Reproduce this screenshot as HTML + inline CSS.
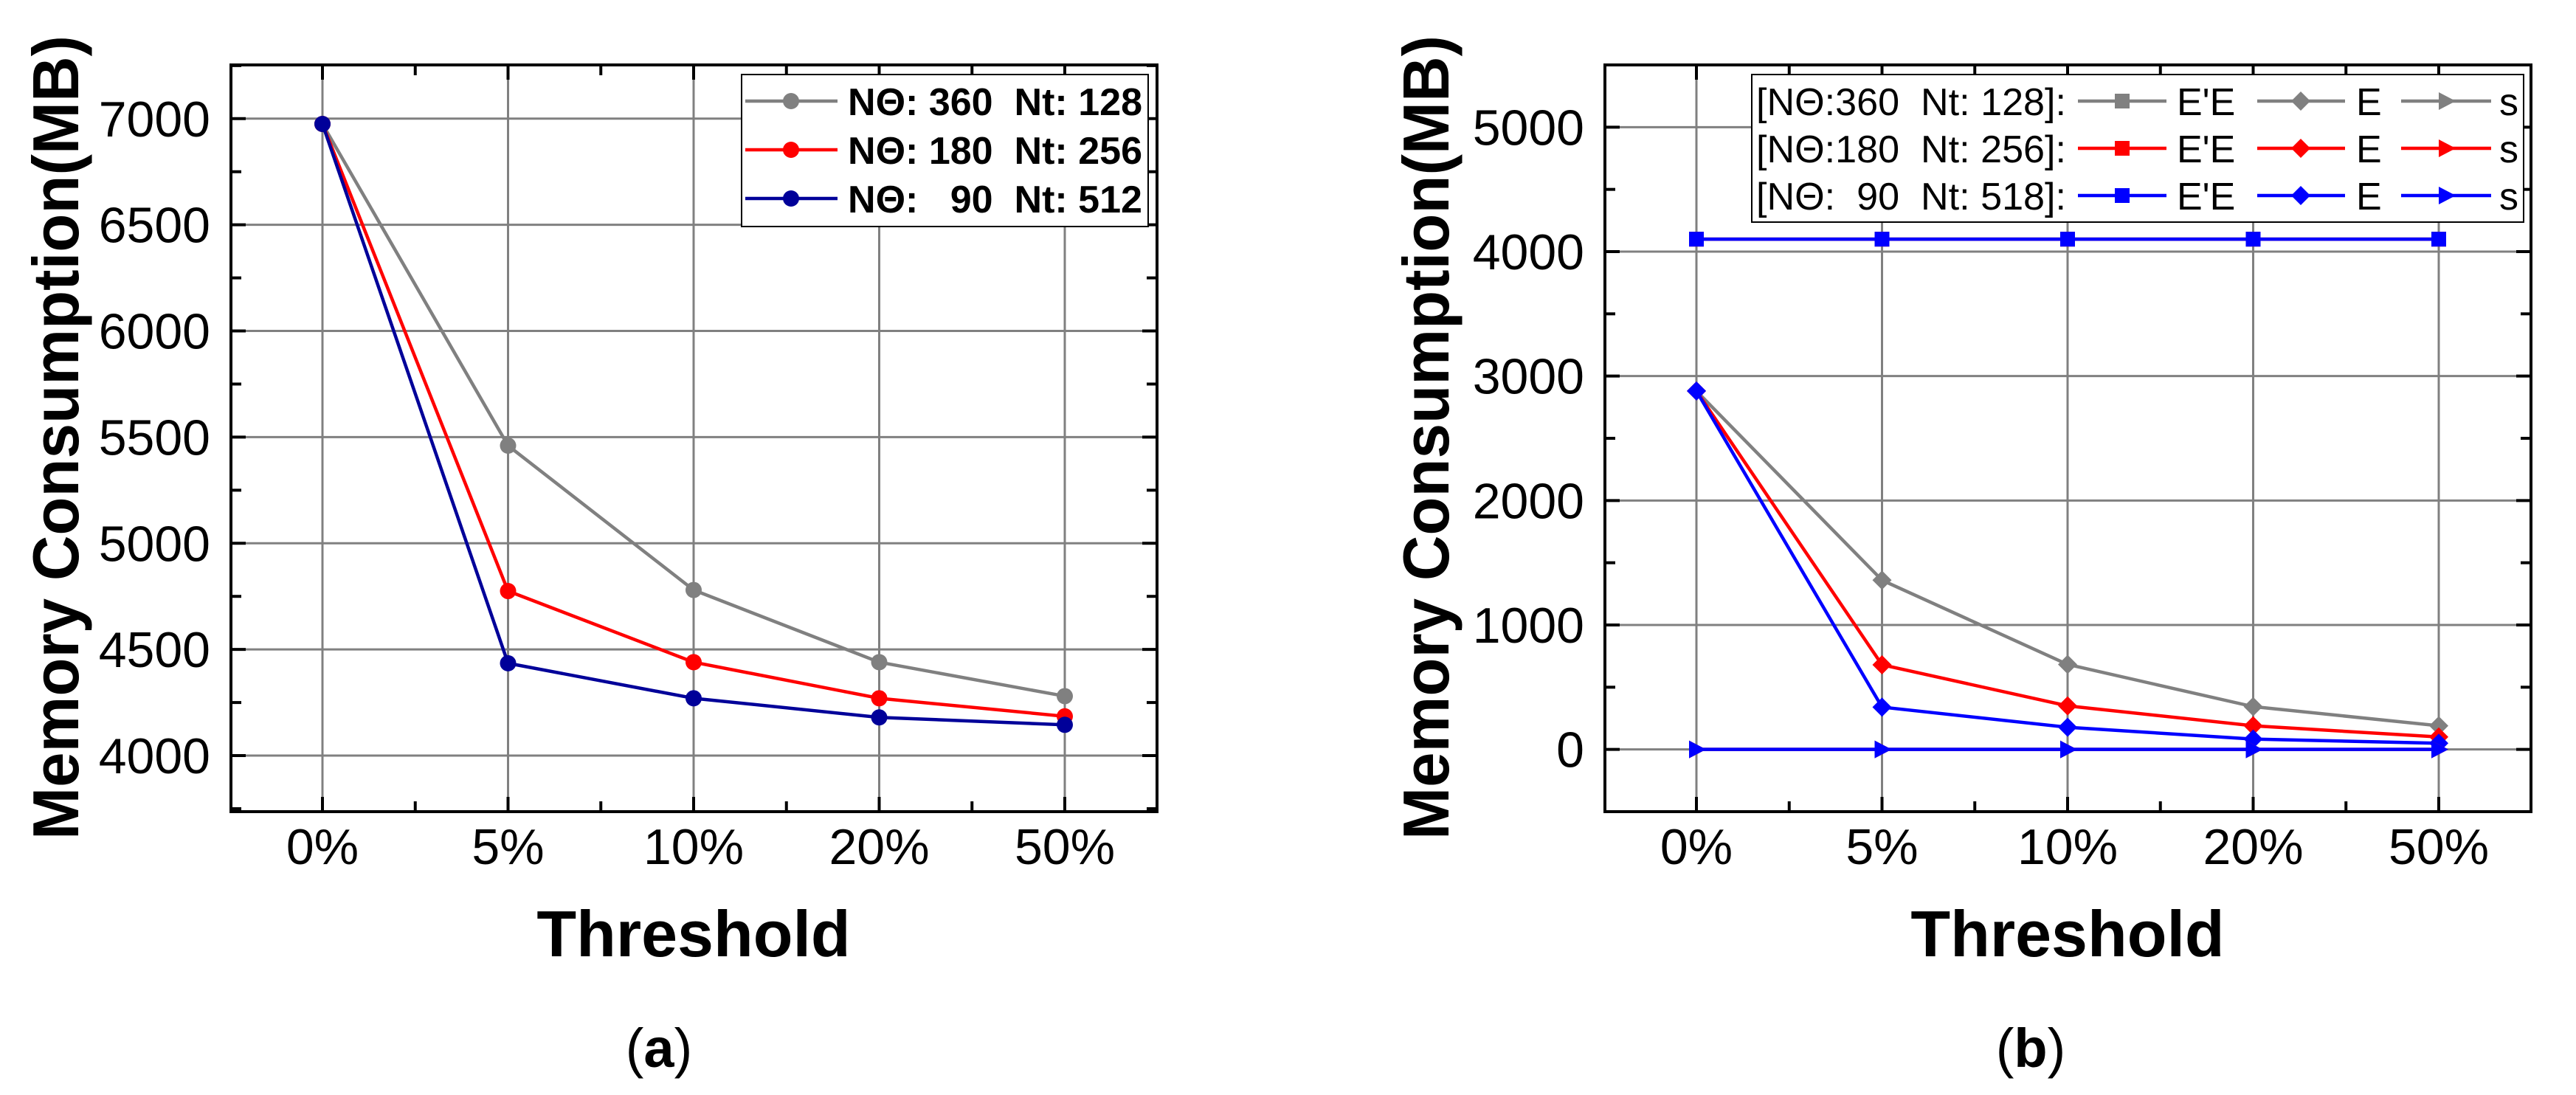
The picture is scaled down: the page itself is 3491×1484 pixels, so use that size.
<!DOCTYPE html>
<html><head><meta charset="utf-8"><style>
html,body{margin:0;padding:0;background:#fff;width:3491px;height:1484px;overflow:hidden}
svg{display:block}
text{font-family:"Liberation Sans",Arial,sans-serif;white-space:pre}
</style></head><body>
<svg id="fig" width="3491" height="1484" viewBox="0 0 3491 1484" xmlns="http://www.w3.org/2000/svg"></svg>
<script>
const categories = ["0%","5%","10%","20%","50%"];
// chart (a)
const aTicks = [4000,4500,5000,5500,6000,6500,7000];
const aGray = [6975,5460,4780,4440,4280];
const aRed = [6975,4775,4440,4270,4185];
const aBlue = [6975,4435,4270,4180,4145];
const aLegend = ["NΘ: 360  Nt: 128","NΘ: 180  Nt: 256","NΘ:   90  Nt: 512"];
// chart (b)
const bTicks = [0,1000,2000,3000,4000,5000];
const bEEGray = [4100,4100,4100,4100,4100];
const bEERed = [4100,4100,4100,4100,4100];
const bEEBlue = [4100,4100,4100,4100,4100];
const bEGray = [2880,1360,683,344,190];
const bERed = [2880,680,350,190,100];
const bEBlue = [2880,340,178,83,50];
const bSGray = [0,0,0,0,0];
const bSRed = [0,0,0,0,0];
const bSBlue = [0,0,0,0,0];
const bLegend = ["[NΘ:360  Nt: 128]:","[NΘ:180  Nt: 256]:","[NΘ:  90  Nt: 518]:"];

const NS="http://www.w3.org/2000/svg";
const svg=document.getElementById('fig');
function mk(tag,attrs,parent,txt){const e=document.createElementNS(NS,tag);for(const k in attrs)e.setAttribute(k,attrs[k]);if(txt!==undefined)e.textContent=txt;(parent||svg).appendChild(e);return e;}

function marker(g,shape,x,y,color){
  let e;
  if(shape==='circle'){e=mk('circle',{cx:x,cy:y,r:11,fill:color},g);}
  else if(shape==='square'){e=mk('rect',{x:x-10,y:y-10,width:20,height:20,fill:color},g);}
  else if(shape==='diamond'){e=mk('polygon',{points:`${x},${y-13} ${x+13},${y} ${x},${y+13} ${x-13},${y}`,fill:color},g);}
  else {e=mk('polygon',{points:`${x-10},${y-12} ${x+13},${y} ${x-10},${y+12}`,fill:color},g);}
  
  
}

function chart(o){
  const g=mk('g',{});
  
  
  const L=o.left,R=o.left+1255,T=88,B=1100;
  const xs=i=>L+124+i*251.5;
  const ys=v=>B-(v-o.ymin)/(o.ymax-o.ymin)*(B-T);
  o.ticks.forEach(t=>{const l=mk('line',{x1:L,x2:R,y1:ys(t),y2:ys(t),stroke:'#808080','stroke-width':3},g);
    });
  categories.forEach((c,i)=>{const l=mk('line',{x1:xs(i),x2:xs(i),y1:T,y2:B,stroke:'#808080','stroke-width':3},g);
    });
  o.ticks.forEach((t,k)=>{
    [[L,L+20],[R,R-20]].forEach(p=>mk('line',{x1:p[0],x2:p[1],y1:ys(t),y2:ys(t),stroke:'#000','stroke-width':4},g));
    const mid=t+o.step/2; if(ys(mid)>T)[[L,L+14],[R,R-14]].forEach(p=>mk('line',{x1:p[0],x2:p[1],y1:ys(mid),y2:ys(mid),stroke:'#000','stroke-width':4},g));
    const tl=mk('text',{x:L-28,y:ys(t)+24,'font-size':68,'text-anchor':'end'},g,String(t));
    
  });
  if(o.ymin<o.ticks[0]){const mid=o.ticks[0]-o.step/2;[[L,L+14],[R,R-14]].forEach(p=>mk('line',{x1:p[0],x2:p[1],y1:ys(mid),y2:ys(mid),stroke:'#000','stroke-width':4},g));}
  categories.forEach((c,i)=>{
    [[B,B-20],[T,T+20]].forEach(p=>mk('line',{x1:xs(i),x2:xs(i),y1:p[0],y2:p[1],stroke:'#000','stroke-width':4},g));
    if(i<4)[[B,B-14],[T,T+14]].forEach(p=>mk('line',{x1:xs(i+0.5),x2:xs(i+0.5),y1:p[0],y2:p[1],stroke:'#000','stroke-width':4},g));
    const tl=mk('text',{x:xs(i),y:1171,'font-size':68,'text-anchor':'middle'},g,c);
    
  });
  o.series.forEach(s=>{
    const sg=mk('g',{},g);
    
    
    mk('polyline',{points:s.vals.map((v,i)=>xs(i)+','+ys(v)).join(' '),fill:'none',stroke:s.color,'stroke-width':4.5,'stroke-linejoin':'round'},sg);
    s.vals.forEach((v,i)=>marker(sg,s.shape,xs(i),ys(v),s.color));
  });
  mk('rect',{x:L,y:T,width:R-L,height:B-T,fill:'none',stroke:'#000','stroke-width':4},g);
  const xt=mk('text',{x:L+627,y:1296,'font-size':88,'font-weight':'bold','text-anchor':'middle'},g,'Threshold');
  
  const yt=mk('text',{x:0,y:0,'font-size':88,'font-weight':'bold','text-anchor':'middle',transform:`translate(${o.ytx},593) rotate(-90)`,textLength:1090,lengthAdjust:'spacingAndGlyphs'},g,'Memory Consumption(MB)');
  
  const cap=mk('text',{x:o.capx,y:1446,'font-size':74,'text-anchor':'middle','font-family':'"Liberation Serif",serif'},g);
  
  mk('tspan',{},cap,'(');mk('tspan',{'font-weight':'bold'},cap,o.cap);mk('tspan',{},cap,')');
  return {g,xs,ys};
}

const A=chart({name:'chart-a',left:313,ymin:3736,ymax:7253,step:500,ticks:aTicks,ytx:106,capx:893,cap:'a',
  series:[{name:'series-360-128',vals:aGray,color:'#808080',shape:'circle'},
          {name:'series-180-256',vals:aRed,color:'#ff0000',shape:'circle'},
          {name:'series-90-512',vals:aBlue,color:'#000099',shape:'circle'}]});
{
  const lg=mk('g',{},A.g);
  
  
  mk('rect',{x:1005,y:101,width:551,height:206,fill:'#fff',stroke:'#000','stroke-width':2},lg);
  const cols=['#808080','#ff0000','#000099'];
  aLegend.forEach((t,i)=>{
    const y=137+i*66;
    const e=mk('g',{},lg);
    
    
    mk('line',{x1:1010,x2:1135,y1:y,y2:y,stroke:cols[i],'stroke-width':4.5},e);
    mk('circle',{cx:1072,cy:y,r:11,fill:cols[i]},e);
    mk('text',{x:1149,y:y+19,'font-size':52,'font-weight':'bold',textLength:399,lengthAdjust:'spacingAndGlyphs'},e,t);
  });
}

const Bc=chart({name:'chart-b',left:2175,ymin:-500,ymax:5500,step:1000,ticks:bTicks,ytx:1963,capx:2752,cap:'b',
  series:[{name:'gray-EE',vals:bEEGray,color:'#808080',shape:'square'},
          {name:'red-EE',vals:bEERed,color:'#ff0000',shape:'square'},
          {name:'blue-EE',vals:bEEBlue,color:'#0000ff',shape:'square'},
          {name:'gray-E',vals:bEGray,color:'#808080',shape:'diamond'},
          {name:'red-E',vals:bERed,color:'#ff0000',shape:'diamond'},
          {name:'blue-E',vals:bEBlue,color:'#0000ff',shape:'diamond'},
          {name:'gray-s',vals:bSGray,color:'#808080',shape:'triangle'},
          {name:'red-s',vals:bSRed,color:'#ff0000',shape:'triangle'},
          {name:'blue-s',vals:bSBlue,color:'#0000ff',shape:'triangle'}]});
{
  const lg=mk('g',{},Bc.g);
  
  
  mk('rect',{x:2374,y:101,width:1046,height:200,fill:'#fff',stroke:'#000','stroke-width':2},lg);
  const cols=['#808080','#ff0000','#0000ff'];
  const items=[['square',2816,2936,2876,"E'E",2950],['diamond',3059,3178,3118,'E',3193],['triangle',3254,3376,3315,'s',3387]];
  bLegend.forEach((t,i)=>{
    const y=137+i*64;
    const e=mk('g',{},lg);
    
    
    mk('text',{x:2380,y:y+19,'font-size':52,textLength:420,lengthAdjust:'spacingAndGlyphs'},e,t);
    items.forEach(it=>{
      mk('line',{x1:it[1],x2:it[2],y1:y,y2:y,stroke:cols[i],'stroke-width':4.5},e);
      marker(e,it[0],it[3],y,cols[i]);
      mk('text',{x:it[5],y:y+19,'font-size':52},e,it[4]);
    });
  });
}
</script>
</body></html>
